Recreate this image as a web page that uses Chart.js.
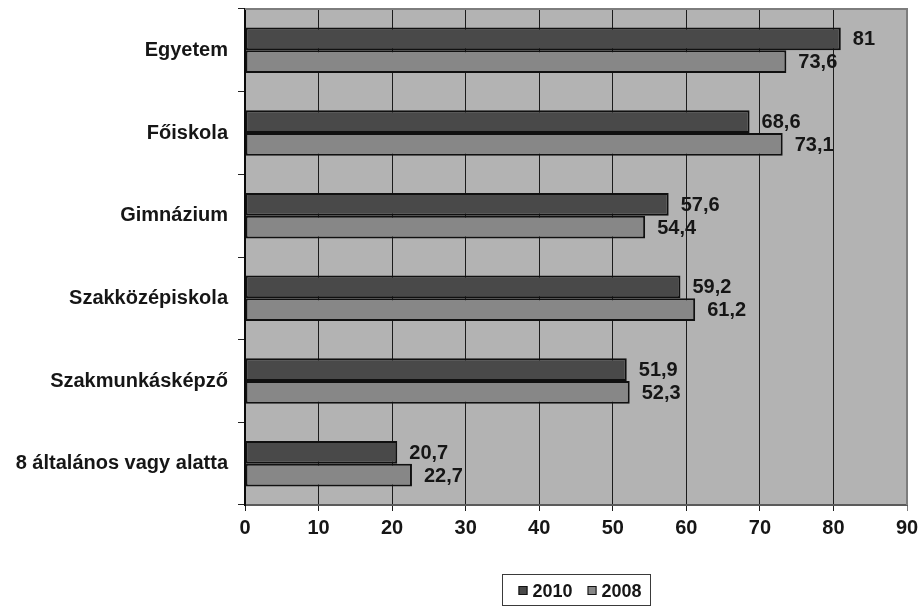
<!DOCTYPE html>
<html lang="hu">
<head>
<meta charset="utf-8">
<title>Iskolai végzettség szerinti arányok, 2010 és 2008</title>
<script src="https://cdn.jsdelivr.net/npm/chart.js@4.4.1/dist/chart.umd.min.js"></script>
<style>
  html, body { margin: 0; padding: 0; background: #ffffff; }
  canvas { display: block; }
</style>
</head>
<body>
<canvas id="chart" width="924" height="608"></canvas>
<script>
// Categories (top to bottom) and the two yearly series
const categories = [
  'Egyetem',
  'Főiskola',
  'Gimnázium',
  'Szakközépiskola',
  'Szakmunkásképző',
  '8 általános vagy alatta'
];
const values2010 = [81, 68.6, 57.6, 59.2, 51.9, 20.7];
const values2008 = [73.6, 73.1, 54.4, 61.2, 52.3, 22.7];
const seriesLabels = ['2010', '2008'];
const xTickValues = [0, 10, 20, 30, 40, 50, 60, 70, 80, 90];

const FONT = "'Liberation Sans', Arial, sans-serif";
const TEXT = '#161616';
const PLOT_BG = '#b3b3b3';
const COLORS = ['#494949', '#878787'];

const fmt = v => String(v).replace('.', ',');

// Grey plot-area fill plus the thin frame along its top and right edges
const plotArea = {
  id: 'plotArea',
  beforeDraw(chart) {
    const { ctx, chartArea: a } = chart;
    ctx.save();
    ctx.fillStyle = PLOT_BG;
    ctx.fillRect(a.left, a.top, a.right - a.left, a.bottom - a.top);
    ctx.restore();
  },
  afterDraw(chart) {
    const { ctx, chartArea: a } = chart;
    ctx.save();
    ctx.strokeStyle = '#7d7d7d';
    ctx.lineWidth = 2;
    ctx.beginPath();
    ctx.moveTo(a.left, a.top);
    ctx.lineTo(a.right, a.top);
    ctx.lineTo(a.right, a.bottom);
    ctx.stroke();
    ctx.restore();
  }
};

// Value labels just past the end of each bar
const valueLabels = {
  id: 'valueLabels',
  afterDatasetsDraw(chart) {
    const { ctx } = chart;
    ctx.save();
    ctx.font = `bold 20px ${FONT}`;
    ctx.fillStyle = TEXT;
    ctx.textAlign = 'left';
    ctx.textBaseline = 'middle';
    chart.data.datasets.forEach((ds, di) => {
      chart.getDatasetMeta(di).data.forEach((bar, i) => {
        ctx.fillText(fmt(ds.data[i]), bar.x + 12, bar.y + 1);
      });
    });
    ctx.restore();
  }
};

// Boxed legend centred under the plot area
const boxedLegend = {
  id: 'boxedLegend',
  afterDraw(chart) {
    const { ctx, chartArea: a } = chart;
    const boxW = 148, boxH = 31, top = 574;
    const left = Math.round((a.left + a.right) / 2 - boxW / 2) + 0.5;
    ctx.save();
    ctx.strokeStyle = '#3a3a3a';
    ctx.lineWidth = 1;
    ctx.strokeRect(left, top + 0.5, boxW, boxH);
    ctx.font = `bold 18px ${FONT}`;
    ctx.textBaseline = 'middle';
    ctx.textAlign = 'left';
    let x = left + 16;
    const cy = top + 17;
    chart.data.datasets.forEach(ds => {
      ctx.fillStyle = ds.backgroundColor;
      ctx.fillRect(x, cy - 5, 9, 9);
      ctx.strokeStyle = '#111';
      ctx.strokeRect(x + 0.5, cy - 4.5, 8, 8);
      ctx.fillStyle = TEXT;
      ctx.fillText(ds.label, x + 14, cy + 1);
      x += 14 + ctx.measureText(ds.label).width + 15;
    });
    ctx.restore();
  }
};

new Chart(document.getElementById('chart'), {
  type: 'bar',
  data: {
    labels: categories,
    datasets: [
      {
        label: seriesLabels[0],
        data: values2010,
        backgroundColor: COLORS[0],
        borderColor: '#101010',
        borderWidth: 2,
        borderSkipped: false,
        categoryPercentage: 0.55,
        barPercentage: 1
      },
      {
        label: seriesLabels[1],
        data: values2008,
        backgroundColor: COLORS[1],
        borderColor: '#101010',
        borderWidth: 2,
        borderSkipped: false,
        categoryPercentage: 0.55,
        barPercentage: 1
      }
    ]
  },
  options: {
    indexAxis: 'y',
    responsive: false,
    animation: false,
    devicePixelRatio: 1,
    layout: { padding: { left: 0, right: 17, top: 9, bottom: 63 } },
    plugins: {
      legend: { display: false },
      tooltip: { enabled: false }
    },
    scales: {
      x: {
        type: 'linear',
        min: 0,
        max: 90,
        afterBuildTicks(scale) {
          scale.ticks = xTickValues.map(v => ({ value: v }));
        },
        afterFit(scale) { scale.height = 40; },
        grid: {
          drawOnChartArea: true,
          drawTicks: true,
          tickLength: 6,
          lineWidth: 1,
          color: ctx => (ctx.tick && ctx.tick.value === 90 ? '#7d7d7d' : '#1c1c1c')
        },
        border: { display: true, color: '#5a5a5a', width: 2 },
        ticks: {
          color: TEXT,
          padding: 5,
          font: { family: FONT, size: 20, weight: 'bold' }
        }
      },
      y: {
        type: 'category',
        afterFit(scale) {
          scale.width = 245;
          scale.paddingTop = 0;
          scale.paddingBottom = 0;
        },
        grid: {
          offset: true,
          drawOnChartArea: false,
          drawTicks: true,
          tickLength: 7,
          color: '#222'
        },
        border: { display: true, color: '#0a0a0a', width: 2 },
        ticks: {
          color: TEXT,
          padding: 10,
          font: { family: FONT, size: 20, weight: 'bold' }
        }
      }
    }
  },
  plugins: [plotArea, valueLabels, boxedLegend]
});
</script>
</body>
</html>
